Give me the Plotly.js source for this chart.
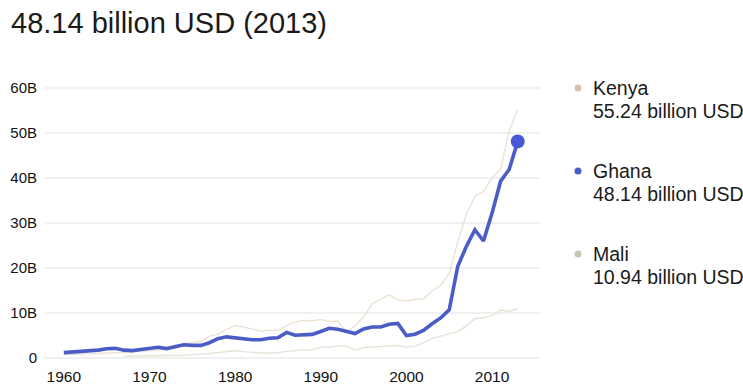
<!DOCTYPE html>
<html>
<head>
<meta charset="utf-8">
<script src="https://cdn.plot.ly/plotly-3.0.1.min.js"></script>
<style>
html,body{margin:0;padding:0;background:#fff;}
#chart{width:743px;height:385px;}
</style>
</head>
<body>
<div id="chart"></div>
<script>
// Years
const years = [];
for (let y = 1960; y <= 2013; y++) years.push(y);

// GDP, billion current USD
const ghana = [1.2,1.3,1.4,1.55,1.75,2.05,2.15,1.75,1.65,1.9,
  2.2,2.4,2.1,2.5,2.95,2.8,2.8,3.4,4.3,4.7,
  4.45,4.2,4.05,4.05,4.4,4.5,5.7,5.05,5.2,5.25,
  5.9,6.6,6.4,5.95,5.45,6.45,6.9,6.9,7.5,7.7,
  5.0,5.3,6.15,7.6,8.9,10.7,20.4,24.8,28.5,26.0,
  32.2,39.3,41.9,48.14];

const kenya = [0.79,0.79,0.87,0.93,0.99,1.0,1.16,1.22,1.34,1.46,
  1.6,1.78,2.11,2.54,3.06,3.47,3.66,4.88,5.3,6.23,
  7.27,6.85,6.43,5.98,6.19,6.14,7.24,7.97,8.36,8.28,
  8.57,8.15,8.21,5.75,7.15,9.05,12.05,13.12,14.09,12.9,
  12.71,12.99,13.15,14.9,16.1,18.74,25.83,31.96,35.9,37.02,
  40.0,41.95,50.41,55.24];

const mali = [null,null,null,null,null,null,null,0.4,0.41,0.41,
  0.4,0.44,0.46,0.53,0.6,0.76,0.81,0.99,1.23,1.45,
  1.63,1.41,1.2,1.11,1.1,1.14,1.48,1.72,1.81,1.84,
  2.42,2.44,2.69,2.6,1.77,2.33,2.48,2.57,2.72,2.77,
  2.42,2.63,3.34,4.36,4.87,5.31,5.87,7.15,8.74,8.96,
  9.42,10.68,10.34,10.94];

const yTickVals = [0,10,20,30,40,50,60];
const yTickText = ["0","10B","20B","30B","40B","50B","60B"];
const xTickVals = [1960,1970,1980,1990,2000,2010];

const countries = ["Kenya","Ghana","Mali"];
const colors = {Kenya:"#ece2d3", Ghana:"#4a5cc6", Mali:"#e2e6d8"};
const dotColors = {Kenya:"#d8c4a4", Ghana:"#4a5cc6", Mali:"#c3cab6"};
const series = {Kenya:kenya, Ghana:ghana, Mali:mali};

const last = years.length - 1;
const font = "Liberation Sans, Arial, sans-serif";

const traces = [
  {x: years, y: kenya, mode: "lines", line: {color: colors.Kenya, width: 1.4}, hoverinfo: "skip"},
  {x: years, y: mali, mode: "lines", line: {color: colors.Mali, width: 1.4}, hoverinfo: "skip"},
  {x: years, y: ghana, mode: "lines", line: {color: colors.Ghana, width: 3.6, shape: "linear"}, hoverinfo: "skip"},
  {x: [years[last]], y: [ghana[last]], mode: "markers", marker: {color: "#4658d6", size: 14}, hoverinfo: "skip"}
];

const H = 385, W = 743;
const PL = 45, PR = 540, PT = 80, PB = 364;
const px2x = px => (px - PL) / (PR - PL);
const py2y = py => 1 - (py - PT) / (PB - PT);
const legendY = [88, 171, 254]; // pixel rows

const annotations = [];
countries.forEach((c, i) => {
  const v = series[c][last];
  annotations.push({
    xref: "paper", yref: "paper", x: px2x(591), y: py2y(legendY[i]), xanchor: "left", yanchor: "middle",
    text: c, showarrow: false, font: {family: font, size: 19.5, color: "#1a1a1a"}
  });
  annotations.push({
    xref: "paper", yref: "paper", x: px2x(591), y: py2y(legendY[i] + 23), xanchor: "left", yanchor: "middle",
    text: v.toFixed(2) + " billion USD", showarrow: false, font: {family: font, size: 19.5, color: "#1a1a1a"}
  });
});

const layout = {
  width: W, height: H,
  margin: {l: PL, r: W - PR, t: PT, b: H - PB, pad: 0},
  paper_bgcolor: "#fff", plot_bgcolor: "#fff",
  showlegend: false,
  title: {
    text: ghana[last].toFixed(2) + " billion USD (" + years[last] + ")",
    x: 11 / W, xanchor: "left", xref: "container",
    y: 1 - 23 / H, yanchor: "middle", yref: "container",
    font: {family: font, size: 29, color: "#1a1a1a"}
  },
  xaxis: {
    range: [1957.8, 2015.6],
    tickvals: xTickVals, ticktext: xTickVals.map(String),
    showgrid: false, zeroline: false, showline: false, ticks: "",
    ticklabelstandoff: 1,
    tickfont: {family: font, size: 15.5, color: "#111"},
    fixedrange: true
  },
  yaxis: {
    range: [-1.33, 61.78],
    tickvals: yTickVals, ticktext: yTickText,
    showgrid: true, gridcolor: "#f0f0f0", gridwidth: 1.5,
    zeroline: false, showline: false, ticks: "",
    ticklabelstandoff: 7,
    tickfont: {family: font, size: 15, color: "#111"},
    fixedrange: true
  },
  annotations: annotations,
  shapes: countries.map((c, i) => ({
    type: "circle", xref: "paper", yref: "paper", xsizemode: "pixel", ysizemode: "pixel",
    xanchor: px2x(578), yanchor: py2y(legendY[i]),
    x0: -3.5, x1: 3.5, y0: -3.5, y1: 3.5,
    fillcolor: dotColors[c], line: {width: 0}
  }))
};

Plotly.newPlot("chart", traces, layout, {staticPlot: true, displayModeBar: false});
</script>
</body>
</html>
